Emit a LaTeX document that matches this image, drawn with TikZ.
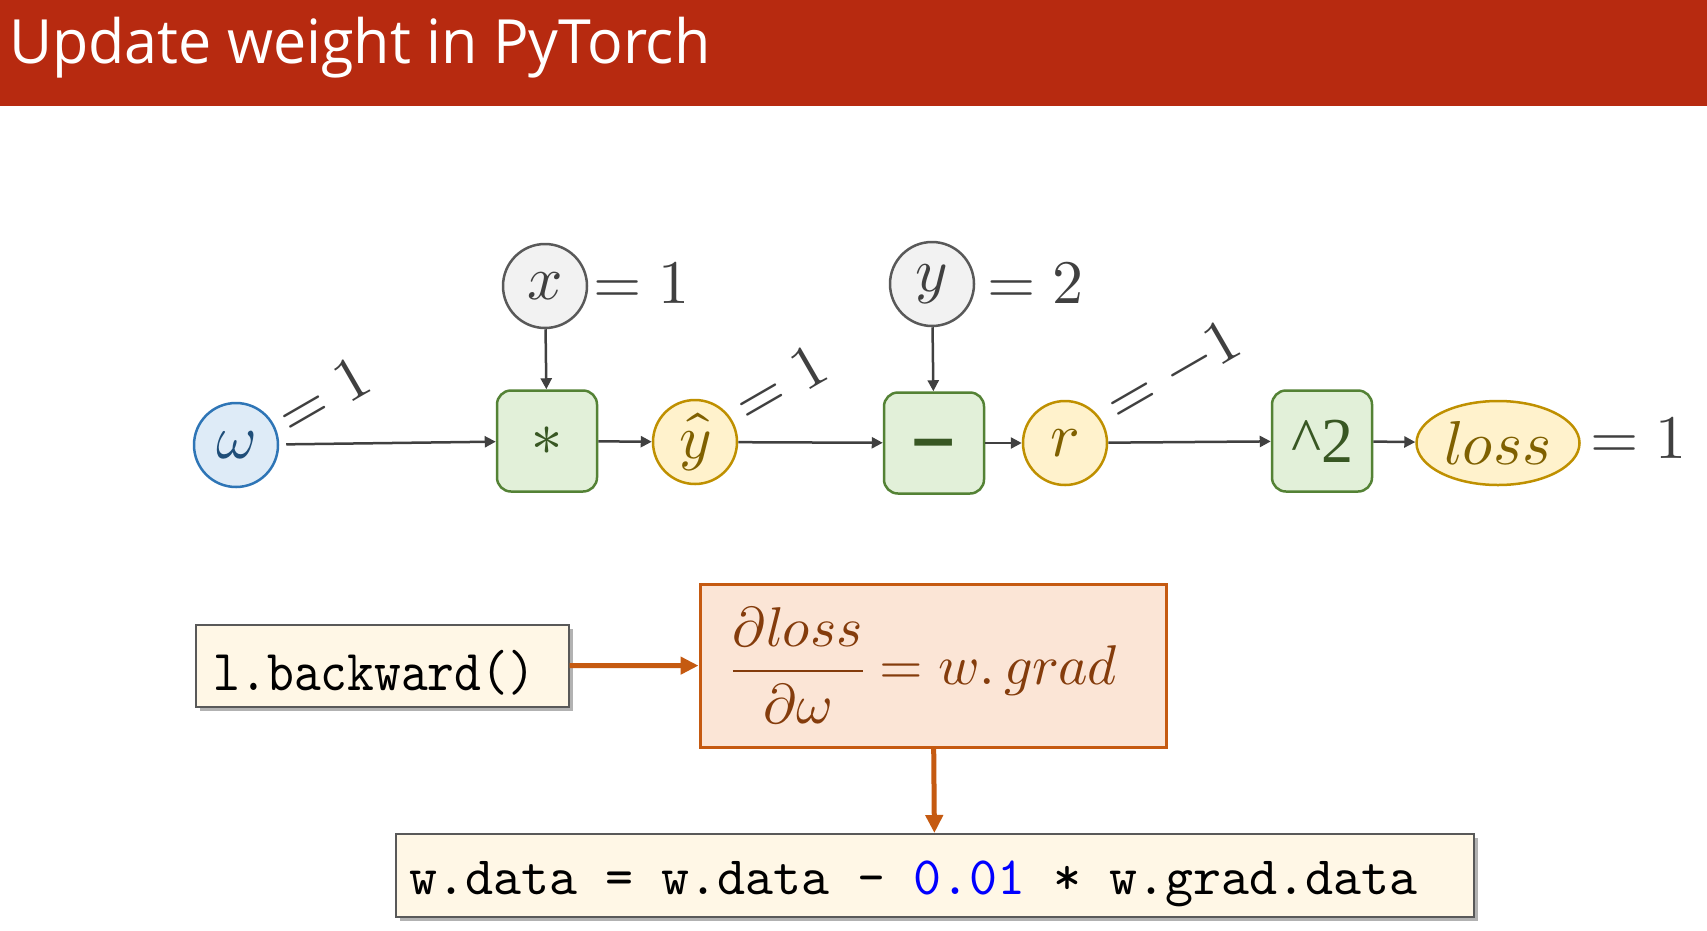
\documentclass[tikz,border=0pt]{standalone}
\usepackage{fontspec}
\usepackage{unicode-math}
\setmathfont{Latin Modern Math}
\usepackage{graphicx}
\newfontfamily\titlefont{Open Sans}
\newfontfamily\symfont{DejaVu Sans}
\newfontfamily\caretfont{Liberation Serif}
\usetikzlibrary{arrows.meta,shadows,shapes.geometric}
\definecolor{titlered}{HTML}{B72A10}
\definecolor{wdraw}{HTML}{2E75B6}
\definecolor{wfill}{HTML}{DEEBF7}
\definecolor{wtext}{HTML}{1F4E79}
\definecolor{idraw}{HTML}{595959}
\definecolor{ifill}{HTML}{F2F2F2}
\definecolor{itext}{HTML}{404040}
\definecolor{odraw}{HTML}{548235}
\definecolor{ofill}{HTML}{E2F0D9}
\definecolor{otext}{HTML}{385723}
\definecolor{vdraw}{HTML}{BF9000}
\definecolor{vfill}{HTML}{FFF2CC}
\definecolor{vtext}{HTML}{7F6000}
\definecolor{edgecol}{HTML}{404040}
\definecolor{gdraw}{HTML}{C55A11}
\definecolor{gfill}{HTML}{FBE5D6}
\definecolor{gtext}{HTML}{843C0C}
\definecolor{cfill}{HTML}{FFF7E6}
\definecolor{cdraw}{HTML}{595959}
\definecolor{codeblue}{HTML}{0000FF}
\newcommand{\padbox}[5]{\vbox{\vskip#1\hbox{\hskip#3#5\hskip#4}\vskip#2}}
\begin{document}
\begin{tikzpicture}[x=1pt,y=-1pt,
  big/.style={font=\fontsize{62}{70}\selectfont},
  wnode/.style={circle,draw=wdraw,fill=wfill,line width=2.5pt,minimum size=84pt,inner sep=0pt,text=wtext,big},
  inode/.style={circle,draw=idraw,fill=ifill,line width=2.5pt,minimum size=84pt,inner sep=0pt,text=itext,big},
  vnode/.style={circle,draw=vdraw,fill=vfill,line width=2.5pt,minimum size=84pt,inner sep=0pt,text=vtext,big},
  lossnode/.style={ellipse,draw=vdraw,fill=vfill,line width=2.5pt,minimum width=163pt,minimum height=84pt,inner sep=0pt,text=vtext,big},
  opnode/.style={rectangle,rounded corners=14pt,draw=odraw,fill=ofill,line width=2.5pt,minimum width=100pt,minimum height=101pt,inner sep=0pt,text=otext,big},
  lbl/.style={inner sep=0pt,text=itext,big},
  edge/.style={draw=edgecol,line width=2.5pt,-{Triangle[length=11pt,width=11pt]}},
  oarrow/.style={draw=gdraw,line width=5pt,-{Triangle[length=18pt,width=17pt]}},
  codebox/.style={rectangle,draw=cdraw,fill=cfill,line width=1.5pt,inner sep=0pt,text=black,
    drop shadow={shadow xshift=4pt,shadow yshift=-4pt,fill=black,opacity=0.3}},
  gradbox/.style={rectangle,draw=gdraw,fill=gfill,line width=3pt,inner sep=0pt,text=gtext},
  plain/.style={inner sep=0pt}
]
\useasboundingbox (0,0) rectangle (1707,930);
\fill[white] (0,0) rectangle (1707,930);
\fill[titlered] (0,0) rectangle (1707,106);
\node[plain,anchor=north west,text=white] (title) at (9,17)
  {\resizebox*{701pt}{61pt}{\titlefont Update weight in PyTorch}};

% graph nodes
\node[wnode] (w) at (236,445) {$\omega$};
\node[inode] (x) at (545,286) {$x$};
\node[opnode] (mul) at (547,441) {$\ast$};
\node[vnode] (yh) at (695,442) {$\hat{y}$};
\node[inode] (y) at (932,284) {$y$};
\node[opnode,text height=37pt,text depth=0pt] (sub) at (934,443) {\fontsize{60}{62}\symfont\bfseries −};
\node[vnode] (r) at (1065,443) {$r$};
\node[opnode] (sq) at (1322,441) {\fontsize{64}{66}\caretfont \^{}2};
\node[lossnode] (loss) at (1498,443) {$loss$};

% value labels
\node[lbl,anchor=base west] (xv) at (593,303) {$=1$};
\node[lbl,anchor=base west] (yv) at (987,303) {$=2$};
\node[lbl,anchor=base west] (lv) at (1590,458) {$=1$};
\node[lbl,rotate=30] (wv) at (323,395) {$=1$};
\node[lbl,rotate=30] (yhv) at (780,383) {$=1$};
\node[lbl,rotate=30] (rv) at (1172,370) {$=-1$};

% edges
\draw[edge,shorten <=7pt] (w) -- (mul);
\draw[edge] (x) -- (mul);
\draw[edge] (mul) -- (yh);
\draw[edge] (yh) -- (sub);
\draw[edge] (y) -- (sub);
\draw[edge] (sub) -- (r);
\draw[edge] (r) -- (sq);
\draw[edge] (sq) -- (loss);

% lower part
\node[codebox,anchor=north west] (bw) at (195,624)
  {\padbox{25pt}{12pt}{18pt}{34pt}{\resizebox*{321pt}{45pt}{\ttfamily l.backward()}}};
\node[gradbox,minimum width=466pt,minimum height=163pt,font=\fontsize{56}{60}\selectfont] (grad) at (933,665.5)
  {$\displaystyle\frac{\partial loss}{\partial\omega}=w.\,grad$\hspace*{16pt}};
\node[codebox,anchor=north west] (upd) at (395,833)
  {\padbox{27pt}{10pt}{14pt}{56pt}{\resizebox*{1008pt}{46pt}{\ttfamily w.data = w.data - \textcolor{codeblue}{0.01} * w.grad.data}}};

\draw[oarrow] (bw) -- (grad);
\draw[oarrow] (grad) -- (upd);
\end{tikzpicture}
\end{document}
